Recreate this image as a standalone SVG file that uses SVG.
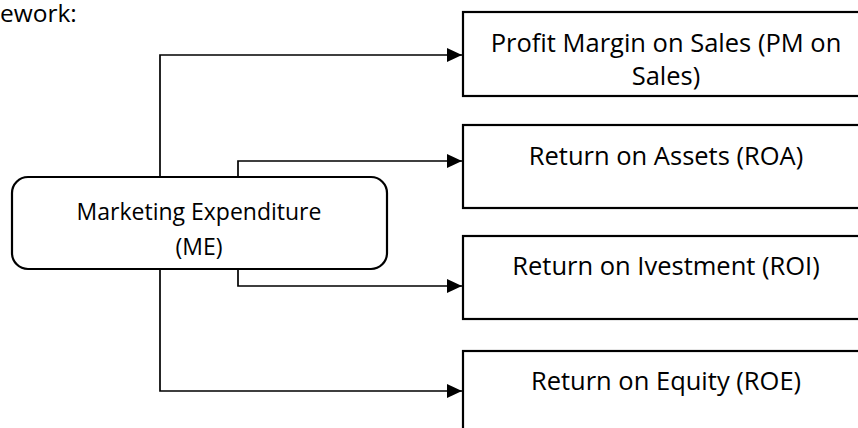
<svg xmlns="http://www.w3.org/2000/svg" width="858" height="428" viewBox="0 0 858 428">
<defs>
<style>
.box{fill:#fff;stroke:#000;stroke-width:2.2}
.t{font-family:"Open Sans","Liberation Sans",sans-serif;fill:#000;text-anchor:middle}
.big{font-size:25.5px}
.me{font-size:23px}
.ln{fill:none;stroke:#000;stroke-width:1.7}
</style>
<marker id="ah" markerUnits="userSpaceOnUse" markerWidth="16" markerHeight="14" refX="15" refY="7" orient="auto">
<path d="M0,0 L15,7 L0,14 Z" fill="#000"/>
</marker>
</defs>
<rect width="858" height="428" fill="#fff"/>
<text x="0" y="22" style="font-family:'Open Sans','Liberation Sans',sans-serif;font-size:24.5px;fill:#000">ework:</text>
<g id="connectors">
<path class="ln" d="M160,177 V55 H462" marker-end="url(#ah)"/>
<path class="ln" d="M238,177 V161 H462" marker-end="url(#ah)"/>
<path class="ln" d="M238,269 V286 H462" marker-end="url(#ah)"/>
<path class="ln" d="M160,269 V391 H462" marker-end="url(#ah)"/>
</g>
<g id="node-me">
<rect class="box" x="12" y="177" width="375" height="92" rx="16" ry="16"/>
<text class="t me" x="199" y="220">Marketing Expenditure</text>
<text class="t me" x="199" y="255">(ME)</text>
</g>
<g id="node-pm">
<rect class="box" x="463" y="12" width="410" height="84"/>
<text class="t big" x="666" y="52">Profit Margin on Sales (PM on</text>
<text class="t big" x="666" y="85">Sales)</text>
</g>
<g id="node-roa">
<rect class="box" x="463" y="125" width="410" height="83"/>
<text class="t big" x="666" y="165">Return on Assets (ROA)</text>
</g>
<g id="node-roi">
<rect class="box" x="463" y="236" width="410" height="83"/>
<text class="t big" x="666" y="275">Return on Ivestment (ROI)</text>
</g>
<g id="node-roe">
<rect class="box" x="463" y="351" width="410" height="83"/>
<text class="t big" x="666" y="390">Return on Equity (ROE)</text>
</g>
</svg>
